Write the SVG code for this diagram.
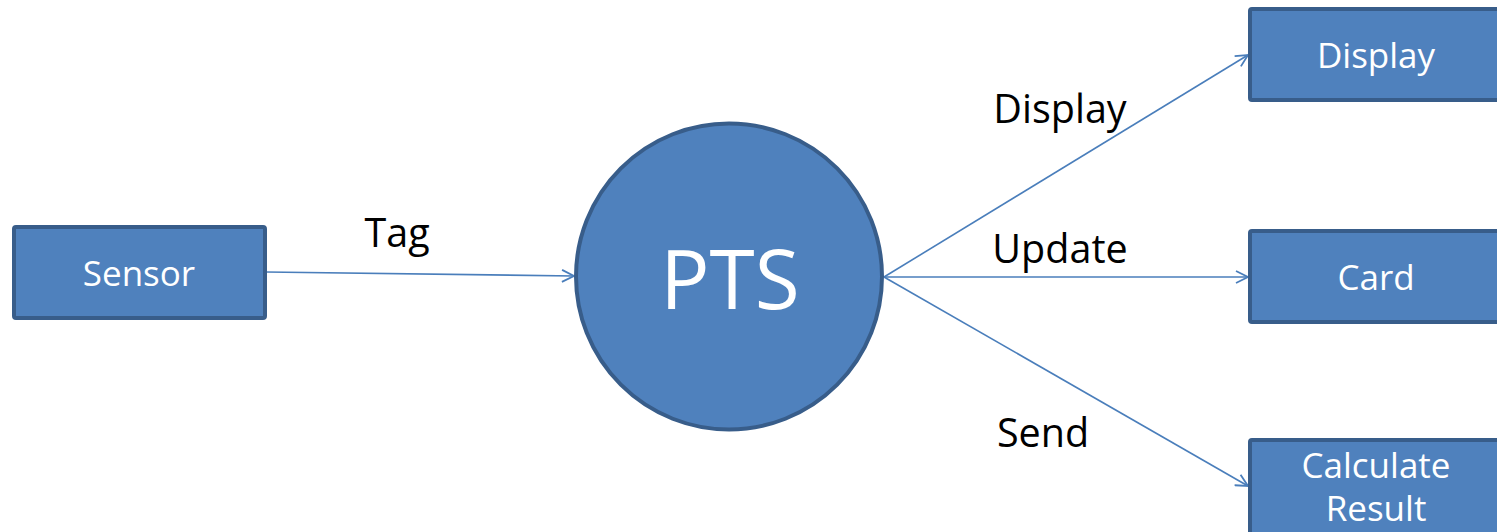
<svg xmlns="http://www.w3.org/2000/svg" width="1497" height="532" viewBox="0 0 1497 532">
<defs>
<style>
.box{fill:#4f81bd;stroke:#385d8a;stroke-width:4}
.nt{fill:#ffffff;font-family:"Open Sans","Noto Sans",sans-serif;text-anchor:middle}
.lbl{fill:#000000;font-family:"Open Sans","Noto Sans",sans-serif;font-size:39.5px;text-anchor:middle}
.edge{stroke:#4a7ebb;stroke-width:1.6;fill:none;marker-end:url(#arr)}
</style>
<marker id="arr" viewBox="0 0 14 14" refX="13" refY="7" markerWidth="14" markerHeight="14" markerUnits="userSpaceOnUse" orient="auto">
<path d="M1,1 L13,7 L1,13" fill="none" stroke="#4a7ebb" stroke-width="1.8"/>
</marker>
</defs>
<g id="connectors">
<line class="edge" x1="266" y1="272" x2="574" y2="276"/>
<line class="edge" x1="884" y1="277" x2="1248" y2="55"/>
<line class="edge" x1="884" y1="277" x2="1248" y2="277"/>
<line class="edge" x1="884" y1="277" x2="1248" y2="486"/>
<text class="lbl" x="397" y="247">Tag</text>
<text class="lbl" x="1060" y="123">Display</text>
<text class="lbl" x="1060" y="263">Update</text>
<text class="lbl" x="1043" y="447">Send</text>
</g>
<g id="sensor">
<rect class="box" x="14" y="227" width="251" height="91" rx="2"/>
<text class="nt" x="139" y="286" font-size="35">Sensor</text>
</g>
<g id="pts">
<circle cx="729" cy="276.5" r="153" fill="#4f81bd" stroke="#385d8a" stroke-width="4"/>
<text class="nt" x="730" y="309" font-size="82">PTS</text>
</g>
<g id="display">
<rect class="box" x="1250" y="9" width="260" height="91" rx="2"/>
<text class="nt" x="1376" y="68" font-size="35">Display</text>
</g>
<g id="card">
<rect class="box" x="1250" y="231" width="260" height="91" rx="2"/>
<text class="nt" x="1376" y="290" font-size="35">Card</text>
</g>
<g id="calc">
<rect class="box" x="1250" y="440" width="260" height="100" rx="2"/>
<text class="nt" x="1376" y="478" font-size="35">Calculate</text>
<text class="nt" x="1376" y="521" font-size="35">Result</text>
</g>
</svg>
